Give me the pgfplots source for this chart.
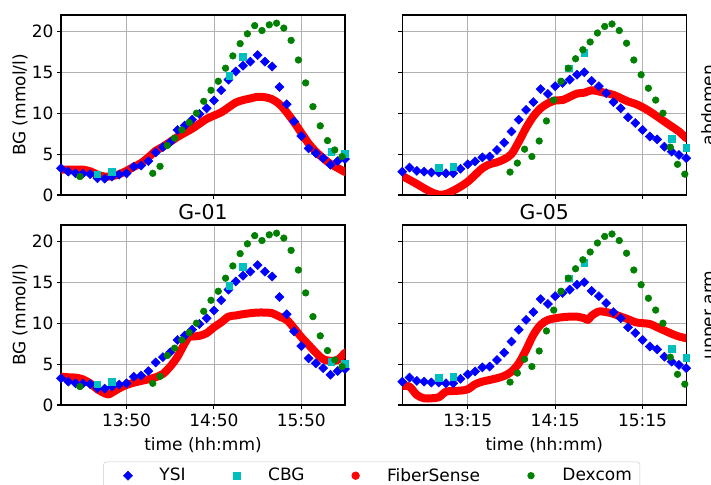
\documentclass[border=0pt]{standalone}
\usepackage{fontspec}
\setmainfont{DejaVu Sans}
\usepackage{pgfplots}
\pgfplotsset{compat=1.18}
\definecolor{ysi}{RGB}{0,0,255}
\definecolor{cbg}{RGB}{0,191,191}
\definecolor{fs}{RGB}{255,0,0}
\definecolor{dex}{RGB}{0,128,0}
\newcommand{\lbl}{\fontsize{12.75}{15}\selectfont}

\pgfplotstableread{
t v
5 3.27
10 2.86
15 2.65
20 2.6
25 2.55
30 2.05
35 2.0
40 2.25
45 2.5
50 2.65
55 3.45
60 3.6
65 4.15
70 5.2
75 5.85
80 6.45
85 7.95
90 8.5
95 9.2
100 9.9
105 10.6
110 11.55
115 12.8
120 14.1
125 15.1
130 15.8
135 16.3
140 17.1
145 16.3
150 15.7
155 13.2
160 11.1
165 9.0
170 7.2
175 5.7
180 5.1
185 4.5
190 3.7
195 4.15
200 4.4
}\ysiA

\pgfplotstableread{
t v
30 2.55
40 2.8
120.5 14.6
130 16.9
190.5 5.3
200 5.0
}\cbgA

\pgfplotstableread{
t v
18 2.25
68 2.65
73 3.5
78 6.05
83 6.95
88 7.95
93 8.85
98 10.0
103 11.45
108 12.8
113 13.9
118 15.5
123 17.0
128 18.5
133 19.7
138 20.7
143 20.1
148 20.8
153 21.0
158 20.4
163 18.9
168 16.5
173 13.7
178 10.8
183 8.45
188 6.65
193 5.5
198 4.7
}\dexA

\pgfplotstableread{
t v
5 3.1
10 3.1
15 3.1
20 3.1
25 2.9
30 2.5
35 2.25
40 2.3
45 2.55
50 2.95
55 3.45
60 3.9
65 4.6
70 5.4
75 5.9
80 6.5
85 7.1
90 7.6
95 8.1
100 8.7
105 9.3
110 9.7
115 10.1
120 10.7
125 11.3
130 11.6
135 11.8
140 12.0
145 11.95
150 11.7
155 11.1
160 10.1
165 8.9
170 7.6
175 6.3
180 5.3
185 4.5
190 3.8
195 3.3
200 2.8
}\fsTL

\pgfplotstableread{
t v
5 3.47
10 3.39
15 3.35
20 3.14
25 2.65
30 1.92
35 1.43
38 1.3
40 1.5
45 2.04
50 2.45
55 2.73
60 2.94
65 3.14
70 3.39
75 3.8
80 4.7
85 5.9
90 7.55
93 8.37
95 8.37
100 8.45
105 8.78
110 9.5
115 10.1
120 10.8
125 10.94
130 11.1
135 11.22
140 11.3
145 11.3
150 11.22
155 10.8
160 10.4
165 9.4
170 8.3
175 7.35
180 6.4
185 5.6
190 5.4
195 5.5
200 6.4
}\fsBL

\pgfplotstableread{
t v
30 2.85
35 3.35
40 2.95
45 2.85
50 2.75
55 2.75
60 2.65
65 2.65
70 3.2
75 3.75
80 4.1
85 4.6
90 4.7
95 5.5
100 6.4
105 7.75
110 9.2
115 10.4
120 11.35
125 12.95
130 12.35
135 13.3
140 13.7
145 14.1
150 14.7
155 15.0
160 13.95
165 13.3
170 12.45
175 11.35
180 10.6
185 9.5
190 8.8
195 7.95
200 7.15
205 6.8
210 5.9
215 5.3
220 4.9
225 4.5
}\ysiB

\pgfplotstableread{
t v
55 3.35
65 3.45
144.5 15.5
155 17.35
215 6.85
225 5.8
}\cbgB

\pgfplotstableread{
t v
104 2.8
109 3.9
114 5.6
119 4.7
124 6.6
129 9.05
134 11.6
139 13.9
144 15.5
149 16.65
154 17.75
159 18.7
164 19.8
169 20.6
174 20.9
179 20.1
184 18.55
189 16.5
194 14.7
199 13.05
204 11.6
209 10.0
214 5.85
219 3.75
224 2.55
}\dexB

\pgfplotstableread{
t v
30 2.33
35 1.84
40 1.35
45 0.82
50 0.35
55 0.05
60 0.12
65 0.53
70 1.02
75 1.63
80 2.45
85 3.27
90 3.76
95 4.0
100 4.37
105 5.0
110 6.5
115 8.2
120 9.6
125 10.6
130 11.2
135 11.55
140 11.6
145 12.0
150 12.4
155 12.5
160 12.8
165 12.65
170 12.45
175 12.24
180 11.84
185 11.43
190 11.14
195 10.73
200 10.2
205 9.6
210 8.98
215 8.37
220 7.76
225 6.94
}\fsTR

\pgfplotstableread{
t v
30 2.33
35 2.24
40 1.22
45 0.82
50 0.82
55 0.94
60 1.63
65 1.71
70 1.76
75 1.92
80 2.53
85 2.86
90 3.06
95 3.27
100 3.55
105 4.08
110 5.1
115 6.73
120 8.57
125 9.8
130 10.4
135 10.6
140 10.73
145 10.8
150 10.8
155 10.6
157.5 10.4
160 10.9
165 11.43
170 11.35
175 11.14
180 10.8
185 10.49
190 10.12
195 10.0
200 9.9
205 9.5
210 9.1
215 8.7
220 8.37
225 8.16
}\fsBR

\pgfplotsset{
 panel/.style={
  scale only axis, width=213pt, height=135pt, anchor=south west,
  ymin=0, ymax=22, ytick={0,5,10,15,20},
  tick pos=left, tick align=outside, major tick length=3pt,
  grid=major, major grid style={color=black!30, line width=0.6pt},
  axis line style={line width=0.8pt},
  every tick/.style={black, line width=0.8pt},
  tick label style={font=\lbl},
  yticklabel style={inner xsep=2.5pt},
  label style={font=\lbl},
  every axis title/.style={at={(axis description cs:0.5,1)}, anchor=base, yshift=4pt, inner sep=0pt, font=\fontsize{15.3}{18}\selectfont},
  /pgf/number format/assume math mode=true,
 },
 leftx/.style={xmin=5, xmax=200, xtick={50,110,170}},
 rightx/.style={xmin=30, xmax=225, xtick={75,135,195}},
 ysi/.style={only marks, mark=square*, mark size=2.4pt, mark options={rotate=45, draw=ysi, fill=ysi}, color=ysi},
 cbg/.style={only marks, mark=square*, mark size=2.5pt, mark options={draw=cbg, fill=cbg}, color=cbg},
 dex/.style={only marks, mark=*, mark size=2.5pt, mark options={draw=dex, fill=dex}, color=dex},
 fsl/.style={color=fs, line width=6pt, line cap=round, line join=round, smooth, no markers},
}

\begin{document}
\begin{tikzpicture}
% top left: G-01 abdomen
\begin{axis}[panel, leftx, at={(45.75pt,217.5pt)}, xticklabels={}, ylabel={BG (mmol/l)},
  ylabel style={at={(axis description cs:-0.144,0.5)}, anchor=center}]
\addplot[ysi] table {\ysiA};
\addplot[cbg] table {\cbgA};
\addplot[fsl] table {\fsTL};
\addplot[dex] table {\dexA};
\end{axis}
% top right: G-05 abdomen
\begin{axis}[panel, rightx, at={(301.7pt,217.5pt)}, xticklabels={}, yticklabels={}]
\addplot[ysi] table {\ysiB};
\addplot[cbg] table {\cbgB};
\addplot[fsl] table {\fsTR};
\addplot[dex] table {\dexB};
\end{axis}
% bottom left: G-01 upper arm
\begin{axis}[panel, leftx, at={(45.75pt,60pt)}, xticklabels={13:50,14:50,15:50},
  ylabel={BG (mmol/l)},
  ylabel style={at={(axis description cs:-0.144,0.5)}, anchor=center},
  xlabel={time (hh:mm)},
  xlabel style={at={(axis description cs:0.5,-0.222)}, anchor=center},
  title={G-01},
  legend columns=4,
  legend image code/.code={\path[draw=none,fill=none] (0pt,0pt) -- (18.3pt,0pt); \draw[#1] plot coordinates {(14.3pt,0pt)};},
  legend style={at={(axis description cs:0.149,-0.315)}, anchor=north west, draw=black!20,
    rounded corners=2pt, font=\lbl, inner xsep=4pt, inner ysep=2.7pt,
    /tikz/every odd column/.append style={column sep=17.6pt},
    /tikz/every even column/.append style={column sep=22pt}},
  ]
\addlegendimage{ysi}
\addlegendimage{cbg}
\addlegendimage{only marks, mark=*, mark size=2.9pt, mark options={draw=fs, fill=fs}}
\addlegendimage{dex}
\addplot[ysi, forget plot] table {\ysiA};
\addplot[cbg, forget plot] table {\cbgA};
\addplot[fsl, forget plot] table {\fsBL};
\addplot[dex, forget plot] table {\dexA};
\legend{YSI,CBG,FiberSense,Dexcom}
\end{axis}
% bottom right: G-05 upper arm
\begin{axis}[panel, rightx, at={(301.7pt,60pt)}, xticklabels={13:15,14:15,15:15}, yticklabels={},
  xlabel={time (hh:mm)},
  xlabel style={at={(axis description cs:0.5,-0.222)}, anchor=center},
  title={G-05}]
\addplot[ysi] table {\ysiB};
\addplot[cbg] table {\cbgB};
\addplot[fsl] table {\fsBR};
\addplot[dex] table {\dexB};
\end{axis}
\node[rotate=90, anchor=base, inner sep=0pt, font=\lbl] at (535.5pt,285pt) {abdomen};
\node[rotate=90, anchor=base, inner sep=0pt, font=\lbl] at (535.5pt,127.5pt) {upper arm};
\pgfresetboundingbox
\useasboundingbox (0pt,0pt) rectangle (533.25pt,363.75pt);
\end{tikzpicture}
\end{document}
